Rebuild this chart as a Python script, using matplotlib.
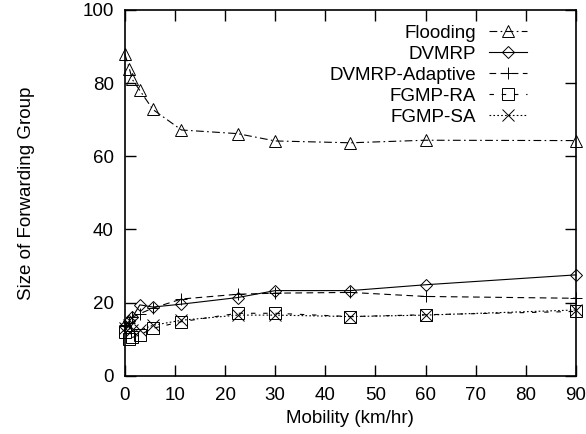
import matplotlib

matplotlib.use("Agg")
import matplotlib.pyplot as plt

plt.rcParams["font.family"] = ["Liberation Sans", "DejaVu Sans"]

# mobility values (km/hr)
mobility = [0, 0.9, 1.5, 3, 5.6, 11.3, 22.5, 30, 45, 60, 90]

flooding = [88, 84, 81, 78, 72.8, 67.2, 66.2, 64.2, 63.7, 64.4, 64.3]
dvmrp = [13.5, 15, 16, 19.4, 18.8, 19.6, 21.4, 23.3, 23.3, 24.9, 27.6]
dvmrp_adaptive = [14, 14.5, 16, 17, 18.5, 21, 22.3, 22.6, 22.8, 21.7, 21.2]
fgmp_ra = [12.1, 10, 10.5, 11.2, 13, 14.8, 17.1, 17.1, 16.2, 16.7, 17.6]
fgmp_sa = [13, 14, 12.5, 12.5, 13.8, 15.2, 16.6, 16.6, 16.2, 16.6, 18]

series = [
    ("Flooding", flooding, "^", (0, (7, 3, 1.5, 3))),
    ("DVMRP", dvmrp, "D", "-"),
    ("DVMRP-Adaptive", dvmrp_adaptive, "+", (0, (6, 4))),
    ("FGMP-RA", fgmp_ra, "s", (0, (4, 7))),
    ("FGMP-SA", fgmp_sa, "x", (0, (1.5, 2))),
]

fig = plt.figure(figsize=(5.86, 4.34), dpi=100)
ax = fig.add_axes([0.213, 0.134, 0.77, 0.843])

for name, vals, marker, ls in series:
    ms = 8 if marker != "D" else 6.5
    ax.plot(mobility, vals, color="black", linestyle=ls, linewidth=0.8,
            marker=marker, markersize=ms, markerfacecolor="none",
            markeredgecolor="black", markeredgewidth=0.7, label=name,
            clip_on=False)

ax.set_xlim(0, 90)
ax.set_ylim(0, 100)
ax.set_xticks(range(0, 91, 10))
ax.set_yticks(range(0, 101, 20))
ax.tick_params(direction="in", length=8, width=1, labelsize=13.5,
               top=True, right=True, pad=8)
for sp in ax.spines.values():
    sp.set_linewidth(1.2)

ax.set_xlabel("Mobility (km/hr)", fontsize=13.5, labelpad=4)
ax.set_ylabel("Size of Forwarding Group", fontsize=13.5, labelpad=34)

ax.legend(loc="upper right", bbox_to_anchor=(0.92, 0.995), frameon=False,
          markerfirst=False, fontsize=13.5, handlelength=2.0,
          handletextpad=0.7, labelspacing=0.2, borderpad=0.2)

fig.savefig("out.png", dpi=100)
